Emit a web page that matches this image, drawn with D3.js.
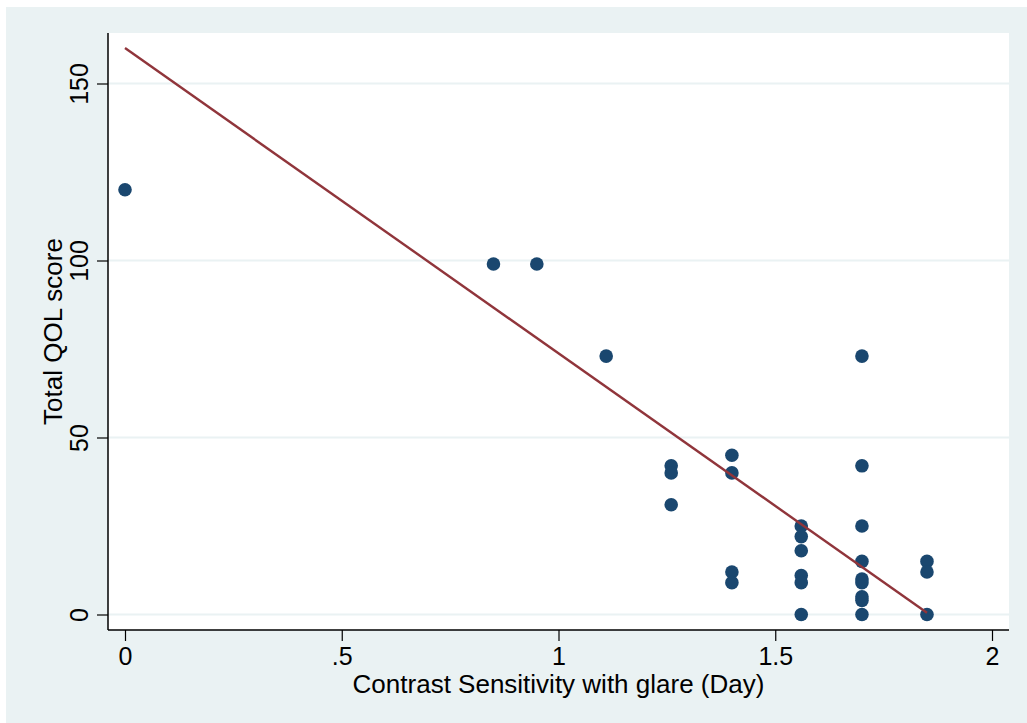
<!DOCTYPE html>
<html><head><meta charset="utf-8">
<script src="https://cdn.jsdelivr.net/npm/d3@7"></script>
<style>body{margin:0;background:#fff}svg{display:block}text{font-family:"Liberation Sans",Arial,sans-serif;fill:#000}</style>
</head><body>
<script>
// Data
const xValues = [0, 0.85, 0.95, 1.11,
  1.26, 1.26, 1.26,
  1.40, 1.40, 1.40, 1.40,
  1.56, 1.56, 1.56, 1.56, 1.56, 1.56,
  1.70, 1.70, 1.70, 1.70, 1.70, 1.70, 1.70, 1.70, 1.70,
  1.85, 1.85, 1.85];
const yValues = [120, 99, 99, 73,
  42, 40, 31,
  45, 40, 12, 9,
  25, 22, 18, 11, 9, 0,
  73, 42, 25, 15, 10, 9, 5, 4, 0,
  15, 12, 0];
const fitX = [0, 1.85];
const fitY = [160, 0.5];
const xTicks = [0, 0.5, 1, 1.5, 2];
const xTickLabels = ["0", ".5", "1", "1.5", "2"];
const yTicks = [0, 50, 100, 150];
const yTickLabels = ["0", "50", "100", "150"];
const xTitle = "Contrast Sensitivity with glare (Day)";
const yTitle = "Total QOL score";

const W = 1027, H = 723;
const svg = d3.select("body").append("svg").attr("width", W).attr("height", H);

svg.append("rect").attr("x", 6).attr("y", 7).attr("width", W - 6).attr("height", H - 7).attr("fill", "#eaf2f3");

const plot = {left: 108, top: 33, right: 1009, bottom: 630};
svg.append("rect").attr("x", plot.left).attr("y", plot.top)
  .attr("width", plot.right - plot.left).attr("height", plot.bottom - plot.top).attr("fill", "#fff");

const x = d3.scaleLinear().domain([0, 2]).range([125, 992]);
const y = d3.scaleLinear().domain([0, 150]).range([614.5, 83.5]);

// gridlines
svg.append("g").selectAll("line").data(yTicks).join("line")
  .attr("x1", plot.left).attr("x2", plot.right)
  .attr("y1", d => y(d)).attr("y2", d => y(d))
  .attr("stroke", "#eaf2f3").attr("stroke-width", 2);

// Axes
const xAxis = d3.axisBottom(x).tickValues(xTicks).tickFormat((d, i) => xTickLabels[i]).tickSize(11).tickPadding(6);
const gx = svg.append("g").attr("transform", `translate(0,${plot.bottom})`).call(xAxis);
gx.select(".domain").remove();
gx.append("line").attr("x1", plot.left).attr("x2", plot.right).attr("y1", 0).attr("y2", 0).attr("stroke", "#000").attr("stroke-width", 1.5);
gx.selectAll(".tick line").attr("stroke", "#000").attr("stroke-width", 1.2);
gx.selectAll(".tick text").attr("font-size", 25).attr("font-family", "Liberation Sans, Arial, sans-serif").attr("fill", "#000");

const yAxis = d3.axisLeft(y).tickValues(yTicks).tickFormat((d, i) => yTickLabels[i]).tickSize(11).tickPadding(9);
const gy = svg.append("g").attr("transform", `translate(${plot.left},0)`).call(yAxis);
gy.select(".domain").remove();
gy.append("line").attr("x1", 0).attr("x2", 0).attr("y1", plot.top).attr("y2", plot.bottom).attr("stroke", "#000").attr("stroke-width", 1.5);
gy.selectAll(".tick line").attr("stroke", "#000").attr("stroke-width", 1.2);
gy.selectAll(".tick text")
  .attr("font-size", 25).attr("font-family", "Liberation Sans, Arial, sans-serif").attr("fill", "#000")
  .attr("x", null).attr("dy", null)
  .attr("text-anchor", "middle")
  .attr("transform", "translate(-20,0) rotate(-90)");

// points
svg.append("g").selectAll("circle").data(xValues.map((v, i) => [v, yValues[i]])).join("circle")
  .attr("cx", d => x(d[0])).attr("cy", d => y(d[1])).attr("r", 6.8).attr("fill", "#1a476f");

// fit line
svg.append("path").datum(fitX.map((v, i) => [v, fitY[i]]))
  .attr("d", d3.line().x(d => x(d[0])).y(d => y(d[1])))
  .attr("fill", "none").attr("stroke", "#90353b").attr("stroke-width", 2.4);

// titles
svg.append("text").attr("x", (plot.left + plot.right) / 2).attr("y", 693)
  .attr("text-anchor", "middle").attr("font-size", 26).text(xTitle);
svg.append("text").attr("transform", `translate(62,${(plot.top + plot.bottom) / 2}) rotate(-90)`)
  .attr("text-anchor", "middle").attr("font-size", 26).text(yTitle);
</script>
</body></html>
